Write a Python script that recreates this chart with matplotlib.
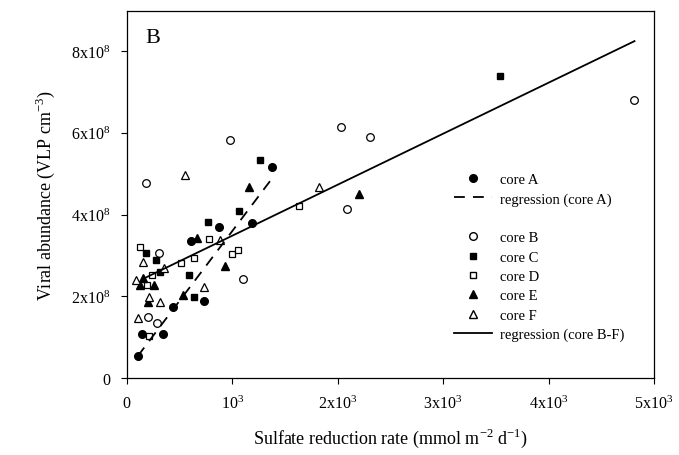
import numpy as np
import matplotlib
matplotlib.use("Agg")
import matplotlib.pyplot as plt
from matplotlib.lines import Line2D

plt.rcParams['font.family'] = ['Liberation Serif', 'DejaVu Serif']
plt.rcParams['mathtext.fontset'] = 'custom'
plt.rcParams['mathtext.rm'] = 'Liberation Serif'

# sulfate reduction rate (mmol m-2 d-1), viral abundance (1e8 VLP cm-3)
core_a_x = [104, 142, 347, 442, 605, 737, 875, 1188, 1377]
core_a_y = [0.54, 1.08, 1.08, 1.74, 3.35, 1.89, 3.70, 3.80, 5.17]

core_b_x = [180, 309, 205, 284, 976, 1100, 2028, 2306, 2085, 4806]
core_b_y = [4.78, 3.06, 1.49, 1.34, 5.83, 2.43, 6.14, 5.89, 4.14, 6.81]

core_c_x = [183, 278, 313, 590, 641, 773, 1062, 1261, 3541]
core_c_y = [3.06, 2.90, 2.61, 2.52, 1.98, 3.83, 4.09, 5.34, 7.38]

core_d_x = [123, 237, 192, 211, 515, 638, 783, 998, 1058, 1633]
core_d_y = [3.22, 2.53, 2.28, 1.03, 2.82, 2.93, 3.41, 3.05, 3.13, 4.22]

core_e_x = [157, 123, 262, 205, 536, 666, 932, 1156, 2199]
core_e_y = [2.44, 2.28, 2.28, 1.86, 2.04, 3.44, 2.75, 4.68, 4.50]

core_f_x = [152, 356, 85, 211, 313, 110, 737, 884, 553, 1826]
core_f_y = [2.85, 2.70, 2.40, 1.98, 1.86, 1.47, 2.24, 3.38, 4.98, 4.68]

# regression lines: slope (1e8 per unit), intercept (1e8), x range
reg_a = (0.00341, 0.185, 104, 1374)
reg_bf = (0.001247, 2.237, 155, 4815)

fig = plt.figure(figsize=(6.79, 4.56), dpi=100)
ax = fig.add_axes([0.1866, 0.1682, 0.7766, 0.8048])

ms = 5.5
ax.plot(core_a_x, core_a_y, 'o', color='black', ms=ms, ls='none')
ax.plot(core_b_x, core_b_y, 'o', mfc='white', mec='black', mew=0.9, ms=ms, ls='none')
ax.plot(core_c_x, core_c_y, 's', color='black', ms=ms - 0.5, ls='none')
ax.plot(core_d_x, core_d_y, 's', mfc='white', mec='black', mew=0.9, ms=ms - 0.5, ls='none')
ax.plot(core_e_x, core_e_y, '^', color='black', ms=ms + 0.5, ls='none')
ax.plot(core_f_x, core_f_y, '^', mfc='white', mec='black', mew=0.9, ms=ms + 0.5, ls='none')

xa = np.array(reg_a[2:])
ax.plot(xa, reg_a[0] * xa + reg_a[1], color='black', lw=1.3, dashes=(6, 4.5))
xb = np.array(reg_bf[2:])
ax.plot(xb, reg_bf[0] * xb + reg_bf[1], color='black', lw=1.3)

ax.set_xlim(0, 5000)
ax.set_ylim(0, 8.97)
ax.set_xticks([0, 1000, 2000, 3000, 4000, 5000])
ax.set_xticklabels(['0', r'$\mathregular{10^3}$', r'$\mathregular{2x10^3}$',
                    r'$\mathregular{3x10^3}$', r'$\mathregular{4x10^3}$',
                    r'$\mathregular{5x10^3}$'])
ax.set_yticks([0, 2, 4, 6, 8])
ax.set_yticklabels(['0', r'$\mathregular{2x10^8}$', r'$\mathregular{4x10^8}$',
                    r'$\mathregular{6x10^8}$', r'$\mathregular{8x10^8}$'])
ax.tick_params(direction='out', length=4, width=0.8, labelsize=11.5, pad=8)
for s in ax.spines.values():
    s.set_linewidth(0.9)

ax.set_xlabel(r'Sulfate reduction rate (mmol m$^{\mathregular{-2}}$ d$^{\mathregular{-1}}$)',
              fontsize=13, labelpad=10)
ax.set_ylabel(r'Viral abundance (VLP cm$^{\mathregular{-3}}$)', fontsize=13, labelpad=10)

ax.text(0.036, 0.93, 'B', transform=ax.transAxes, fontsize=16, va='center')

handles = [
    Line2D([], [], marker='o', color='black', ls='none', ms=ms),
    Line2D([], [], color='black', lw=1.3, dashes=(6, 4.5)),
    Line2D([], [], ls='none'),
    Line2D([], [], marker='o', mfc='white', mec='black', ls='none', ms=ms),
    Line2D([], [], marker='s', color='black', ls='none', ms=ms - 0.5),
    Line2D([], [], marker='s', mfc='white', mec='black', ls='none', ms=ms - 0.5),
    Line2D([], [], marker='^', color='black', ls='none', ms=ms + 0.5),
    Line2D([], [], marker='^', mfc='white', mec='black', ls='none', ms=ms + 0.5),
    Line2D([], [], color='black', lw=1.3),
]
labels = ['core A', 'regression (core A)', '', 'core B', 'core C', 'core D',
          'core E', 'core F', 'regression (core B-F)']
ax.legend(handles, labels, loc='upper left', bbox_to_anchor=(0.62, 0.56),
          frameon=False, fontsize=10.5, handlelength=2.6, handletextpad=0.6,
          borderpad=0, borderaxespad=0, labelspacing=0.42)

fig.savefig('out.png', dpi=100)
